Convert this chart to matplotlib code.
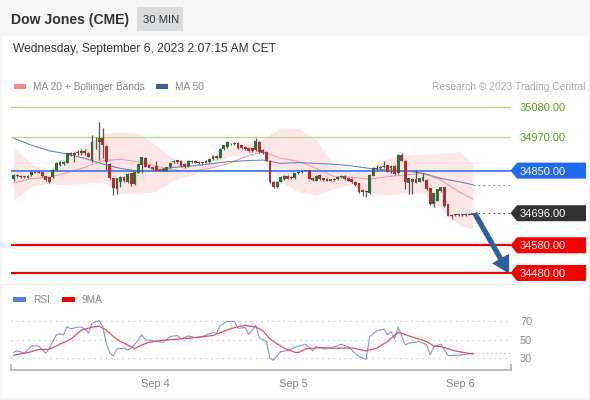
import numpy as np
import matplotlib
matplotlib.use("Agg")
import matplotlib.pyplot as plt
from matplotlib.patches import Polygon, Rectangle

plt.rcParams['font.family'] = ['Liberation Sans', 'DejaVu Sans']

opens = [34818,34834,34832,34829,34824,34834,34842,34845,34844,34830,34826,34826,34852,34870,34874,34879,34915,34915,34912,34912,
 34921,34915,34888,34954,34952,34969,34939,34874,34822,34783,34810,34826,34810,34840,34802,34842,34870,34897,34870,34862,
 34866,34854,34850,34850,34862,34881,34888,34886,34874,34866,34881,34885,34881,34880,34879,34880,34904,34894,34897,34928,
 34934,34946,34951,34951,34942,34936,34933,34930,34924,34954,
 34925,34919,34886,34810,34790,34810,34819,34831,34828,34822,34840,34844,34849,34852,34825,34814,34834,34822,34820,34819,
 34816,34819,34826,34831,34822,34820,34810,34804,34780,34772,34768,34831,34861,34858,34862,34870,34858,34867,34840,34907,
 34886,34807,34820,34807,34810,34814,34816,34786,34729,34741,34776,34790,34729,34690,34689,34692,34692,34689,34693,34690]
closes = [34834,34829,34827,34826,34832,34846,34846,34842,34830,34816,34810,34852,34879,34882,34882,34912,34906,34906,34918,34922,
 34912,34900,34954,34953,34969,34942,34882,34822,34786,34822,34826,34812,34838,34801,34846,34874,34898,34864,34860,34856,
 34850,34850,34857,34862,34879,34886,34881,34866,34864,34885,34886,34879,34876,34876,34886,34892,34891,34904,34928,34942,
 34952,34948,34946,34930,34930,34927,34921,34921,34957,34916,
 34913,34886,34808,34790,34810,34828,34831,34820,34822,34840,34844,34848,34852,34820,34816,34832,34819,34816,34814,34814,
 34820,34828,34831,34819,34814,34808,34798,34774,34772,34778,34834,34861,34856,34864,34868,34846,34868,34837,34907,34886,
 34808,34822,34808,34819,34822,34826,34782,34729,34768,34782,34790,34722,34687,34686,34692,34688,34688,34693,34690,34696]
highs = [34838,34836,34834,34831,34834,34848,34849,34847,34846,34831,34828,34856,34882,34885,34886,34914,34917,34918,34925,34928,
 34928,34918,34978,34972,35024,35003,34942,34876,34824,34824,34830,34830,34840,34842,34848,34876,34900,34899,34872,34864,
 34886,34856,34859,34864,34881,34888,34890,34888,34876,34887,34888,34887,34883,34882,34890,34894,34906,34907,34930,34944,
 34958,34950,34953,34953,34944,34938,34936,34932,34967,34956,
 34928,34921,34888,34812,34812,34830,34834,34834,34830,34842,34846,34850,34854,34854,34827,34834,34836,34824,34822,34821,
 34822,34830,34833,34833,34824,34822,34812,34806,34782,34780,34836,34863,34870,34868,34885,34872,34870,34869,34910,34915,
 34888,34824,34822,34852,34824,34840,34818,34788,34770,34784,34792,34792,34731,34692,34694,34694,34694,34695,34695,34698]
lows = [34813,34827,34825,34824,34823,34832,34840,34840,34828,34814,34805,34824,34850,34868,34872,34877,34904,34882,34908,34905,
 34905,34898,34880,34928,34888,34895,34851,34820,34761,34767,34792,34808,34806,34795,34798,34840,34842,34862,34858,34852,
 34848,34848,34848,34848,34860,34879,34879,34862,34860,34862,34879,34877,34874,34874,34877,34876,34889,34892,34895,34926,
 34930,34944,34944,34928,34928,34925,34918,34919,34922,34914,
 34911,34884,34806,34788,34786,34808,34815,34818,34820,34820,34838,34842,34847,34818,34814,34812,34817,34814,34812,34812,
 34814,34817,34824,34817,34812,34806,34796,34770,34760,34756,34766,34829,34854,34856,34860,34844,34843,34835,34838,34884,
 34784,34766,34766,34805,34808,34812,34780,34727,34717,34739,34774,34720,34685,34674,34687,34686,34686,34687,34688,34688]

band_idx = [0,5,10,15,20,25,30,35,40,45,50,55,60,65,70,75,80,85,90,95,100,105,110,115,120,125,129]
bb_upper = [34936,34874,34852,34906,34942,34984,34990,34984,34942,34894,34870,34882,34930,34954,34963,
            35005,35003,34961,34870,34840,34858,34895,34907,34910,34913,34919,34876]
bb_lower = [34744,34792,34804,34798,34804,34810,34768,34768,34774,34816,34834,34858,34900,34912,34918,
            34810,34774,34762,34786,34798,34768,34762,34768,34768,34714,34654,34638]
ma20 = [34806,34821,34826,34842,34862,34886,34891,34882,34867,34852,34848,34858,34874,34900,34918,
        34895,34883,34858,34828,34826,34819,34828,34834,34840,34816,34774,34748]
ma50 = [34967,34942,34922,34910,34894,34874,34858,34848,34852,34862,34867,34874,34882,34886,34888,
        34876,34879,34876,34873,34867,34858,34852,34850,34840,34822,34810,34799]

rsi_idx = [0,1,3,5,7,9,10,12,13,14,15,16,18,19,20,21,22,24,25,26,27,28,29,31,32,33,35,36,37,39,40,42,44,46,47,49,51,53,56,57,
           58,60,62,63,65,66,68,69,71,72,73,75,77,79,82,84,85,87,89,92,94,97,99,100,102,104,105,106,107,108,110,111,114,116,117,118,120,122,126,129]
rsi = [36.4,37.9,35.4,43.2,43.2,35.4,40.7,55,56,55,63.9,61.4,63.2,63.2,61.1,56.8,67.5,70,63.9,46,35.4,32.5,40,40.7,38.9,40.7,49.6,55,49.6,48.9,47.9,47.1,53.2,54.3,50.7,53.9,52.1,53.2,57.5,56.8,
       65,69.3,69.3,62.1,62.8,55.7,65,52.1,47.9,30,27.9,37.1,38.2,41.8,45,37.9,42.5,40,40.7,45,42.1,31.8,28.9,53.2,59.3,61.1,55,58.6,50.7,63.2,44.3,46.1,47.9,44.3,33.6,42.5,45,32.9,33.6,35.4]
rsi_ma_idx = [0,4,7,10,13,16,19,22,24,26,28,30,34,36,38,42,47,52,56,60,63,65,68,70,72,73,76,79,80,82,86,90,95,99,102,105,108,111,116,118,120,124,126,129]
rsi_ma = [33.2,36.1,39.3,39.6,45,50.3,60,63.2,64.3,60.3,53.2,47.9,40.4,44.3,47.1,49.3,50.7,52.5,54.3,60.3,63.9,65,63.6,59.3,50.7,47.9,40.7,36.4,36.1,40,41.4,40.7,41.1,37.9,40.7,47.9,57.8,53.9,47.9,42.9,42.5,37.9,36.4,34.6]

levels = [35080, 34970, 34850, 34696, 34580, 34480]
day_pos = [39.7, 78.7, 125.6]
day_labels = ['Sep 4', 'Sep 5', 'Sep 6']
rsi_levels = [70, 50, 30]

W, H = 590, 400
fig = plt.figure(figsize=(W/100, H/100), dpi=100, facecolor='white')
def box(x0, y0, x1, y1):
    return [x0/W, 1-y1/H, (x1-x0)/W, (y1-y0)/H]
def P(x, y):
    return (x/W, 1-y/H)
tf = fig.transFigure

fig.add_artist(Rectangle(P(0, 36), 1, 36/H, transform=tf, fc='#f6f6f6', ec='none'))
fig.add_artist(Rectangle(P(137, 31), 46/W, 24/H, transform=tf, fc='#d8dcdf', ec='none'))
fig.add_artist(Rectangle(P(0, 400), 2/W, 1, transform=tf, fc='#f6f6f6', ec='none'))
fig.add_artist(Rectangle(P(588, 400), 2/W, 1, transform=tf, fc='#f6f6f6', ec='none'))
fig.add_artist(Rectangle(P(0, 400), 1, 2/H, transform=tf, fc='#f0f0f0', ec='none'))
fig.add_artist(Rectangle(P(2, 285), 586/W, 1/H, transform=tf, fc='#eeeeee', ec='none'))

fig.text(*P(11, 20.2), 'Dow Jones (CME)', fontsize=10.05, fontweight='bold', color='#333333', va='center')
fig.text(*P(161, 20), '30 MIN', fontsize=8.1, color='#333333', va='center', ha='center')
fig.text(*P(13, 49.3), 'Wednesday, September 6, 2023 2:07:15 AM CET', fontsize=8.67, color='#333333', va='center')
fig.add_artist(Rectangle(P(14, 88.5), 12/W, 5/H, transform=tf, fc='#f98a8a', ec='none'))
fig.text(*P(33, 86.7), 'MA 20 + Bollinger Bands', fontsize=7.27, color='#888888', va='center')
fig.add_artist(Rectangle(P(156, 88.5), 12/W, 5/H, transform=tf, fc='#36609f', ec='none'))
fig.text(*P(175, 86.7), 'MA 50', fontsize=7.27, color='#888888', va='center')
fig.text(*P(586, 86.7), 'Research © 2023 Trading Central', fontsize=7.4, color='#aaaaaa', va='center', ha='right')
fig.add_artist(Rectangle(P(13, 301.5), 13/W, 5/H, transform=tf, fc='#5b7fd6', ec='none'))
fig.text(*P(33, 299.7), 'RSI', fontsize=7.27, color='#888888', va='center')
fig.add_artist(Rectangle(P(62, 301.5), 13/W, 5/H, transform=tf, fc='#ee0000', ec='none'))
fig.text(*P(82, 299.7), '9MA', fontsize=7.27, color='#888888', va='center')

xlim = (-0.758, 139.7)
ax = fig.add_axes(box(11, 60, 511, 284), facecolor='none')
ax.set_xlim(*xlim)
ax.set_ylim(34440, 35250)
for s in ax.spines.values():
    s.set_visible(False)
ax.set_xticks([])

x = np.arange(len(opens))
o, c = np.array(opens), np.array(closes)
up = c >= o
ax.fill_between(band_idx, bb_lower, bb_upper, color='#fde6e6', lw=0, zorder=1, clip_on=False)
ax.plot(band_idx, ma20, color='#f0a0a0', lw=0.8, zorder=2)
ax.plot(band_idx, ma50, color='#6f86b5', lw=0.8, zorder=2)
ax.axhline(levels[0], color='#b5d68a', lw=1.0, zorder=2)
ax.axhline(levels[1], color='#bfd88f', lw=1.0, zorder=2)
ax.axhline(levels[2], color='#4a7de8', lw=1.3, zorder=2)
ax.axhline(levels[4], color='#ee0000', lw=1.6, zorder=2)
ax.axhline(levels[5], color='#ee0000', lw=1.6, zorder=2)
ax.vlines(x, lows, highs, color='#555555', lw=0.9, zorder=3)
ax.bar(x, np.abs(c-o), bottom=np.minimum(o, c), width=0.8,
       color=['#2c6e35' if u else '#b92c2c' for u in up], lw=0, zorder=4)
ax.plot([129, xlim[1]], [ma50[-1], ma50[-1]], color='#888888', lw=0.8, ls=(0, (1.5, 3)), zorder=2)
ax.plot([129, xlim[1]], [closes[-1], closes[-1]], color='#555555', lw=0.8, ls=(0, (1.5, 3)), zorder=2)

ax.annotate('', xy=(139.2, 34477), xytext=(129.5, 34696),
            arrowprops=dict(arrowstyle='simple,head_length=0.9,head_width=1.0,tail_width=0.27',
                            color='#2f5f9e', lw=0, shrinkA=0, shrinkB=0, mutation_scale=14),
            zorder=6, annotation_clip=False)

tag_cols = {34850: '#1f69ee', 34696: '#333333', 34580: '#f60000', 34480: '#f60000'}
for lev, col in tag_cols.items():
    yc = ax.transData.transform((0, lev))[1]
    yp = H - yc
    pts = [P(510.5, yp), P(517, yp-8), P(586, yp-8), P(586, yp+8), P(517, yp+8)]
    ax.add_patch(Polygon(pts, closed=True, transform=tf, fc=col, ec='none', clip_on=False, zorder=1))

ax.yaxis.tick_right()
ax.set_yticks(levels)
ax.set_yticklabels([f'{v:.2f}' for v in levels], fontsize=8.0)
ax.tick_params(axis='y', length=0, pad=6.5)
for lab, col in zip(ax.get_yticklabels(), ['#5b9e14', '#5b9e14', 'white', 'white', 'white', 'white']):
    lab.set_color(col)

rx = fig.add_axes(box(11, 310, 511, 370), facecolor='none')
rx.set_xlim(*xlim)
rx.set_ylim(17.5, 81.5)
for s in ['top']:
    rx.spines[s].set_visible(False)
for s in ['left', 'right']:
    rx.spines[s].set_bounds(17.5, 23)
    rx.spines[s].set_color('#bbbbbb')
    rx.spines[s].set_linewidth(1.4)
rx.spines['bottom'].set_color('#bbbbbb')
rx.spines['bottom'].set_linewidth(1.4)
for lv in rsi_levels:
    rx.axhline(lv, color='#bbbbbb', lw=0.8, ls=(0, (1, 4)), zorder=1)
rx.plot([129, xlim[1]], [rsi[-1], rsi[-1]], color='#c9d2f2', lw=0.9, ls=(0, (1.5, 2)), zorder=1)
rx.plot(rsi_idx, rsi, color='#7f97d9', lw=0.8, zorder=2)
rx.plot(rsi_ma_idx, rsi_ma, color='#e2505a', lw=0.9, zorder=3)
rx.yaxis.tick_right()
rx.set_yticks(rsi_levels)
rx.set_yticklabels([str(v) for v in rsi_levels], fontsize=7.9, color='#888888')
rx.tick_params(axis='y', length=0, pad=6.5)
rx.set_xticks(day_pos)
rx.set_xticklabels(day_labels, fontsize=7.9, color='#888888')
rx.tick_params(axis='x', length=0, pad=6.5)

fig.savefig('out.png', dpi=100)
